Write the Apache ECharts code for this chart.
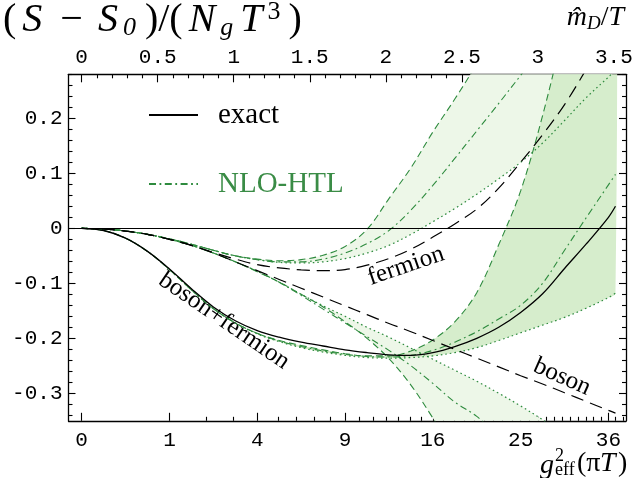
<!DOCTYPE html>
<html><head><meta charset="utf-8">
<script src="https://cdn.jsdelivr.net/npm/echarts@6/dist/echarts.min.js"></script>
<style>html,body{margin:0;padding:0;background:#fff}#c{width:632px;height:478px}</style>
</head><body><div id="c"></div>
<script>
// ---- data (x = g_eff, plotted on a sqrt scale of g^2; y = (S-S0)/(Ng T^3)) ----
const G = [0,0.25,0.5,0.75,1,1.25,1.5,1.75,2,2.25,2.5,2.75,3,3.25,3.5,3.75,4,4.25,4.5,4.75,5,5.25,5.5,5.75,6,6.08];
const exactBF = [0,-0.004,-0.018,-0.042,-0.074,-0.110,-0.143,-0.168,-0.186,-0.198,-0.207,-0.214,-0.221,-0.226,-0.230,-0.231,-0.226,-0.215,-0.200,-0.180,-0.153,-0.119,-0.073,-0.028,0.020,0.040];
const exactBoson = [0,-0.0013,-0.005,-0.011,-0.020,-0.031,-0.045,-0.061,-0.077,-0.093,-0.109,-0.125,-0.141,-0.157,-0.173,-0.188,-0.204,-0.220,-0.236,-0.252,-0.268,-0.283,-0.299,-0.315,-0.331,-0.336];
const exactFermion = [0,-0.0013,-0.005,-0.011,-0.020,-0.031,-0.044,-0.056,-0.066,-0.072,-0.0755,-0.077,-0.075,-0.067,-0.055,-0.038,-0.016,0.008,0.035,0.073,0.120,0.170,0.225,0.290,0.360,0.385];
// NLO-HTL, fermion part (dashed / dash-dot / dotted)
const fermDash = [0,-0.0013,-0.005,-0.011,-0.019,-0.029,-0.040,-0.050,-0.056,-0.059,-0.057,-0.049,-0.033,-0.002,0.054,0.110,0.175,0.235,0.300,0.380,0.470,0.570,0.680,0.800,0.930,0.970];
const fermMid  = [0,-0.0013,-0.005,-0.011,-0.019,-0.029,-0.040,-0.050,-0.057,-0.061,-0.061,-0.056,-0.045,-0.028,-0.004,0.033,0.078,0.127,0.177,0.227,0.278,0.330,0.390,0.450,0.510,0.530];
const fermDot  = [0,-0.0013,-0.005,-0.011,-0.019,-0.029,-0.040,-0.050,-0.057,-0.062,-0.063,-0.061,-0.055,-0.045,-0.031,-0.011,0.012,0.036,0.062,0.090,0.120,0.155,0.196,0.238,0.275,0.288];
// NLO-HTL, boson+fermion
const totDash = [0,-0.004,-0.018,-0.042,-0.075,-0.112,-0.146,-0.172,-0.191,-0.204,-0.213,-0.221,-0.228,-0.232,-0.232,-0.223,-0.203,-0.170,-0.117,-0.030,0.068,0.205,0.370,0.560,0.760,0.830];
const totMid  = [0,-0.004,-0.018,-0.042,-0.075,-0.112,-0.146,-0.172,-0.191,-0.205,-0.215,-0.223,-0.229,-0.233,-0.234,-0.231,-0.222,-0.207,-0.188,-0.165,-0.140,-0.100,-0.040,0.020,0.079,0.098];
const totDot  = [0,-0.004,-0.018,-0.042,-0.075,-0.112,-0.146,-0.172,-0.192,-0.206,-0.217,-0.225,-0.231,-0.235,-0.236,-0.235,-0.232,-0.226,-0.217,-0.204,-0.190,-0.176,-0.162,-0.145,-0.126,-0.118];
// NLO-HTL, boson part
const bosDash = [0,-0.0013,-0.005,-0.011,-0.020,-0.031,-0.045,-0.061,-0.079,-0.098,-0.120,-0.143,-0.170,-0.200,-0.237,-0.285,-0.345,-0.410,-0.480,-0.560,-0.640,-0.720,-0.800,null,null,null];
const bosMid  = [0,-0.0013,-0.005,-0.011,-0.020,-0.031,-0.045,-0.061,-0.078,-0.098,-0.122,-0.147,-0.172,-0.197,-0.222,-0.250,-0.282,-0.316,-0.342,-0.380,-0.420,null,null,null,null,null];
const bosDot  = [0,-0.0013,-0.005,-0.011,-0.020,-0.031,-0.045,-0.061,-0.078,-0.098,-0.120,-0.141,-0.160,-0.180,-0.198,-0.218,-0.238,-0.258,-0.278,-0.300,-0.323,-0.348,-0.375,null,null,null];
// tick labels
const g2Ticks = [0,1,4,9,16,25,36];
const mTicks = [0,0.5,1,1.5,2,2.5,3,3.5];
const yTicks = [-0.3,-0.2,-0.1,0,0.1,0.2];

// ---- layout / style ----
const GMIN = -0.15, GMAX = 6.2, SQ3 = Math.sqrt(3);
const YMIN = -0.35, YMAX = 0.28;
const GREEN = '#2e8b3e', GREEN_TXT = '#3a8c46';
const TICKFONT = 'Liberation Mono';
const SERIF = 'Liberation Serif';

const gMajor = g2Ticks.map(v => Math.sqrt(v));
const gMinor = [];
for (let n = 2; n <= 38; n++) { const r = Math.sqrt(n); if (Math.abs(r - Math.round(r)) > 1e-9) gMinor.push(r); }
const mMinor = [];
for (let k = 1; k <= 35; k++) if (k % 5) mMinor.push(k / 10);
const yMinor = [];
for (let k = -17; k <= 14; k++) if (k % 5) yMinor.push(k / 50);

function pts(arr) { const out = []; arr.forEach((v, i) => { if (v !== null) out.push([G[i], v]); }); return out; }

const SMOOTH = 0.35;
function curve(name, arr, color, width, type, z) {
  return { name, type: 'line', data: pts(arr), xAxisIndex: 0, yAxisIndex: 0, symbol: 'none', smooth: SMOOTH,
    lineStyle: { color, width, type }, itemStyle: { color }, z, silent: true, clip: true };
}
function band(upper, lower, color, z) {
  return { type: 'custom', xAxisIndex: 0, yAxisIndex: 0, data: [[0, 0]], z, silent: true,
    renderItem(params, api) {
      const p = [];
      for (let i = 0; i < G.length; i++) if (upper[i] !== null && lower[i] !== null) p.push(api.coord([G[i], upper[i]]));
      for (let i = G.length - 1; i >= 0; i--) if (upper[i] !== null && lower[i] !== null) p.push(api.coord([G[i], lower[i]]));
      const cs = params.coordSys;
      return { type: 'group', clipPath: { type: 'rect', shape: { x: cs.x, y: cs.y, width: cs.width, height: cs.height } },
        children: [{ type: 'polygon', shape: { points: p, smooth: SMOOTH }, style: { fill: color } }] };
    } };
}

const DASH_BLACK = [13, 7], DASH_G = [7, 4], DASHDOT_G = [7, 3.5, 1.8, 3.5], DOT_G = [1.6, 3];

function xAxisDef(pos, isMinor, vals, fmt, min, max) {
  return { type: 'value', position: pos, min, max, gridIndex: 0,
    axisLine: { show: !isMinor, onZero: false, lineStyle: { color: '#000', width: 1.3 } },
    axisTick: { show: true, inside: true, length: isMinor ? 4 : 8, customValues: vals, lineStyle: { color: '#000', width: 1.1 } },
    axisLabel: isMinor ? { show: false } : { show: true, customValues: vals, formatter: fmt, margin: pos === 'top' ? 6 : 9,
      fontFamily: TICKFONT, fontSize: 21, color: '#000' },
    splitLine: { show: false }, minorTick: { show: false } };
}
function yAxisDef(pos, isMinor, vals, showLabel) {
  return { type: 'value', position: pos, min: YMIN, max: YMAX, gridIndex: 0,
    axisLine: { show: !isMinor, onZero: false, lineStyle: { color: '#000', width: 1.3 } },
    axisTick: { show: true, inside: true, length: isMinor ? 4 : 7, customValues: vals, lineStyle: { color: '#000', width: 1.1 } },
    axisLabel: (!isMinor && showLabel) ? { show: true, customValues: vals, formatter: v => String(Math.round(v * 10) / 10),
      margin: 6, fontFamily: TICKFONT, fontSize: 21, color: '#000' } : { show: false },
    splitLine: { show: false } };
}

const legendBase = { left: 148, padding: 0, itemWidth: 49, itemHeight: 14, selectedMode: false,
  itemStyle: { opacity: 0 },
  textStyle: { fontFamily: SERIF, fontSize: 29, lineHeight: 30, padding: [0, 0, 0, 15] } };

const chart = echarts.init(document.getElementById('c'), null, { renderer: 'canvas' });
chart.setOption({
  animation: false,
  backgroundColor: '#fff',
  grid: { left: 68.5, top: 74.3, width: 557.5, height: 346.5, containLabel: false, outerBoundsMode: 'none' },
  xAxis: [
    xAxisDef('bottom', false, gMajor, v => String(Math.round(v * v)), GMIN, GMAX),
    xAxisDef('bottom', true, gMinor, null, GMIN, GMAX),
    xAxisDef('top', false, mTicks, v => String(Math.round(v * 2) / 2), GMIN / SQ3, GMAX / SQ3),
    xAxisDef('top', true, mMinor, null, GMIN / SQ3, GMAX / SQ3)
  ],
  yAxis: [
    yAxisDef('left', false, yTicks, true),
    yAxisDef('left', true, yMinor, false),
    yAxisDef('right', false, yTicks, false),
    yAxisDef('right', true, yMinor, false)
  ],
  legend: [
    Object.assign({}, legendBase, { top: 100, data: [{ name: 'exact', textStyle: { color: '#000' } }] }),
    Object.assign({}, legendBase, { top: 169, data: [{ name: 'NLO-HTL', textStyle: { color: GREEN_TXT } }] })
  ],
  graphic: [
    { type: 'text', left: 3, top: -1, silent: true, style: {
        text: '{p|(}{i|S}{m|−}{i|S}{s|0}{q|)/(}{i|N}{s|g}{i|T}{u|3}{p|)}',
        rich: {
          p: { fontFamily: SERIF, fontSize: 40, fill: '#000', padding: [0, 4, 0, 4] },
          q: { fontFamily: SERIF, fontSize: 40, fill: '#000', padding: [0, 4, 0, 4] },
          m: { fontFamily: SERIF, fontSize: 40, fill: '#000', padding: [0, 13, 0, 13] },
          i: { fontFamily: SERIF, fontSize: 40, fontStyle: 'italic', fill: '#000', padding: [0, 5, 0, 2] },
          s: { fontFamily: SERIF, fontSize: 26, fontStyle: 'italic', fill: '#000', padding: [16, 5, 0, 0] },
          u: { fontFamily: SERIF, fontSize: 26, fill: '#000', padding: [0, 4, 17, 0] }
        } } },
    { type: 'text', right: 8, top: 4, silent: true, style: {
        text: '{i|m\u0302}{s|D}{p|/}{i|T}',
        rich: {
          p: { fontFamily: SERIF, fontSize: 28, fill: '#000' },
          i: { fontFamily: SERIF, fontSize: 28, fontStyle: 'italic', fill: '#000' },
          s: { fontFamily: SERIF, fontSize: 19, fontStyle: 'italic', fill: '#000', padding: [12, 0, 0, 0] }
        } } },
    { type: 'text', x: 540, y: 452, silent: true, style: { text: 'g', fontFamily: SERIF, fontSize: 28, fontStyle: 'italic', fill: '#000' } },
    { type: 'text', x: 555, y: 447, silent: true, style: { text: '2', fontFamily: SERIF, fontSize: 18, fill: '#000' } },
    { type: 'text', x: 555, y: 461, silent: true, style: { text: 'eff', fontFamily: SERIF, fontSize: 18, fill: '#000' } },
    { type: 'text', x: 577, y: 450, silent: true, style: { text: '(π', fontFamily: SERIF, fontSize: 28, fill: '#000' } },
    { type: 'text', x: 600, y: 450, silent: true, style: { text: 'T', fontFamily: SERIF, fontSize: 28, fontStyle: 'italic', fill: '#000' } },
    { type: 'text', x: 618, y: 450, silent: true, style: { text: ')', fontFamily: SERIF, fontSize: 28, fill: '#000' } },
    { type: 'text', x: 224, y: 321, rotation: -0.60, silent: true, style: { text: 'boson+fermion', fontFamily: SERIF, fontSize: 25, fill: '#000', align: 'center', verticalAlign: 'middle' } },
    { type: 'text', x: 406, y: 266, rotation: 0.33, silent: true, style: { text: 'fermion', fontFamily: SERIF, fontSize: 25, fill: '#000', align: 'center', verticalAlign: 'middle' } },
    { type: 'text', x: 562, y: 377, rotation: -0.42, silent: true, style: { text: 'boson', fontFamily: SERIF, fontSize: 25, fill: '#000', align: 'center', verticalAlign: 'middle' } }
  ],
  series: [
    band(fermDash, fermDot, '#edf7e8', 1),
    band(bosDot, bosDash, '#edf7e8', 1),
    band(totDash, totDot, '#d6edcc', 2),
    curve('fD', fermDash, GREEN, 1.1, DASH_G, 4),
    curve('fM', fermMid, GREEN, 1.1, DASHDOT_G, 4),
    curve('fT', fermDot, GREEN, 1.2, DOT_G, 4),
    curve('bD', bosDash, GREEN, 1.1, DASH_G, 4),
    curve('bM', bosMid, GREEN, 1.1, DASHDOT_G, 4),
    curve('bT', bosDot, GREEN, 1.2, DOT_G, 4),
    curve('tD', totDash, GREEN, 1.1, DASH_G, 4),
    curve('NLO-HTL', totMid, GREEN, 1.1, DASHDOT_G, 4),
    curve('tT', totDot, GREEN, 1.2, DOT_G, 4),
    curve('boson', exactBoson, '#000', 1.2, DASH_BLACK, 5),
    curve('fermion', exactFermion, '#000', 1.2, DASH_BLACK, 5),
    Object.assign(curve('exact', exactBF, '#000', 1.3, 'solid', 5), {
      markLine: { silent: true, symbol: 'none', label: { show: false }, lineStyle: { color: '#000', width: 1.2, type: 'solid' }, data: [{ yAxis: 0 }] }
    })
  ]
});
</script>
</body></html>
